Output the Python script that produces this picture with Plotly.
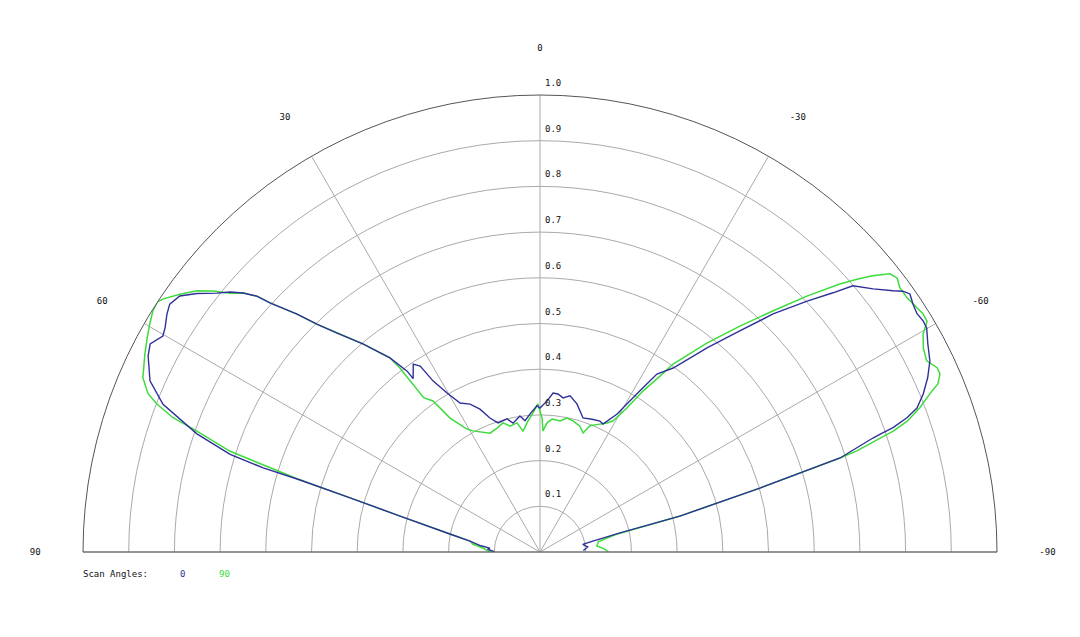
import plotly.graph_objects as go

# scan angle 0 (blue): theta in degrees (positive = left), relative level
theta_0 = [90.0, 88.8, 87.0, 85.5, 84.0, 81.1, 78.7, 75.6, 74.1, 73.3, 73.1, 72.5, 71.0,
           68.6, 66.3, 63.4, 61.9, 60.2, 59.1, 57.5, 56.2, 54.6, 53.0, 51.3, 50.0, 48.9,
           47.9, 47.3, 45.6, 44.4, 42.8, 40.4, 37.7, 36.3, 36.2, 34.0, 32.8, 32.0, 30.3,
           28.2, 25.3, 22.8, 20.5, 18.0, 13.9, 11.8, 8.4, 6.5, 4.1, 1.2, 0.0, -2.7, -4.7,
           -6.5, -8.5, -10.9, -14.0, -17.8, -21.4, -24.6, -26.2, -29.2, -31.1, -31.8, -33.3,
           -35.9, -39.3, -42.1, -44.4, -46.8, -48.5, -49.6, -51.7, -53.5, -54.3, -55.1,
           -56.4, -57.7, -58.9, -59.9, -61.8, -63.9, -65.8, -67.6, -69.1, -69.9, -70.6,
           -70.9, -71.1, -72.6, -73.8, -75.6, -76.6, -78.3, -80.0, -84.0, -86.0, -88.0]
r_0 = [0.100, 0.103, 0.115, 0.110, 0.130, 0.155, 0.201, 0.316, 0.432, 0.548, 0.633, 0.711, 0.794,
       0.886, 0.932, 0.959, 0.967, 0.951, 0.956, 0.968, 0.975, 0.967, 0.940, 0.906, 0.885, 0.862,
       0.835, 0.804, 0.744, 0.698, 0.653, 0.598, 0.537, 0.491, 0.470, 0.496, 0.484, 0.441, 0.403,
       0.370, 0.358, 0.339, 0.313, 0.297, 0.300, 0.288, 0.301, 0.289, 0.303, 0.320, 0.315, 0.331, 0.349,
       0.348, 0.341, 0.348, 0.334, 0.308, 0.312, 0.315, 0.312, 0.346, 0.394, 0.415, 0.466,
       0.497, 0.577, 0.652, 0.729, 0.802, 0.856, 0.899, 0.929, 0.961, 0.978, 0.987,
       0.980, 0.976, 0.979, 0.978, 0.963, 0.950, 0.930, 0.907, 0.883, 0.855, 0.819,
       0.788, 0.770, 0.688, 0.501, 0.316, 0.180, 0.118, 0.095, 0.105, 0.100, 0.095]

# scan angle 90 (green)
theta_90 = [91.0, 90.6, 88.5, 86.0, 83.2, 81.1, 78.7, 75.6, 74.1, 73.3, 72.0, 70.6, 69.9,
            68.9, 68.0, 66.3, 63.4, 61.4, 59.7, 58.1, 56.8, 56.1, 54.4, 52.7, 51.4, 50.1,
            48.9, 47.9, 47.3, 45.6, 44.4, 42.8, 40.4, 37.7, 37.3, 37.0, 35.3, 33.9, 30.7,
            29.0, 22.8, 19.1, 16.0, 13.4, 10.1, 8.0, 5.2, 2.9, 0.8, -0.9, -1.4, -3.1, -5.2,
            -8.7, -11.4, -14.1, -17.6, -19.9, -21.6, -25.1, -27.4, -29.1, -31.1, -32.6, -34.3,
            -35.3, -38.6, -41.5, -44.0, -46.2, -48.2, -49.3, -50.3, -51.5, -52.5, -53.7,
            -55.3, -57.1, -58.1, -59.2, -60.4, -62.0, -63.7, -65.1, -66.0, -67.1, -67.9,
            -69.2, -70.4, -71.1, -71.5, -72.3, -72.6, -73.8, -75.6, -77.0, -80.0, -84.0,
            -87.0, -90.0]
r_90 = [0.150, 0.105, 0.115, 0.125, 0.148, 0.155, 0.201, 0.316, 0.432, 0.548, 0.713, 0.796, 0.855,
        0.898, 0.925, 0.949, 0.967, 0.979, 0.989, 0.998, 1.000, 0.993, 0.969, 0.943, 0.915, 0.883,
        0.862, 0.835, 0.804, 0.744, 0.698, 0.653, 0.598, 0.537, 0.506, 0.423, 0.405, 0.353, 0.313,
        0.303, 0.282, 0.287, 0.294, 0.283, 0.287, 0.267, 0.288, 0.305, 0.324, 0.293, 0.265, 0.283, 0.292,
        0.290, 0.299, 0.296, 0.289, 0.277, 0.297, 0.309, 0.318, 0.328, 0.368, 0.418, 0.466,
        0.504, 0.585, 0.660, 0.733, 0.809, 0.880, 0.915, 0.946, 0.978, 0.985, 0.977,
        0.977, 0.983, 0.987, 0.986, 0.964, 0.950, 0.944, 0.958, 0.958, 0.945, 0.921,
        0.889, 0.853, 0.817, 0.785, 0.728, 0.688, 0.501, 0.316, 0.170, 0.130, 0.125,
        0.140, 0.150]

angle_ticks = [-90, -60, -30, 0, 30, 60, 90]
angle_text = ["-90", "-60", "-30", "0", "30", "60", "90"]
radial_ticks = [0.1, 0.2, 0.3, 0.4, 0.5, 0.6, 0.7, 0.8, 0.9, 1.0]

mono = "DejaVu Sans Mono"
blue = "#30309a"
green = "#3ddc3d"

fig = go.Figure()
fig.add_trace(go.Scatterpolar(theta=theta_90, r=r_90, mode="lines", name="90",
                              line=dict(color=green, width=1.5)))
fig.add_trace(go.Scatterpolar(theta=theta_0, r=r_0, mode="lines", name="0",
                              line=dict(color=blue, width=1.4)))

# legend line under the plot
notes = [
    dict(text="Scan Angles:", x=-0.002, y=-0.048, xref="paper", yref="paper",
         xanchor="left", yanchor="middle", showarrow=False),
    dict(text="0", x=0.1094, y=-0.048, xref="paper", yref="paper",
         xanchor="center", yanchor="middle", showarrow=False, font=dict(color=blue)),
    dict(text="90", x=0.155, y=-0.048, xref="paper", yref="paper",
         xanchor="center", yanchor="middle", showarrow=False, font=dict(color=green)),
]
# radial labels: the half disc fills the domain, so ring r sits at paper y=r on the 0 spoke
for v in radial_ticks:
    notes.append(dict(text="%.1f" % v, x=0.5, y=v, xref="paper", yref="paper",
                      xanchor="left", yanchor="middle", xshift=3, yshift=12,
                      showarrow=False))

# page body has an 8px margin, so the margins are shifted a bit
fig.update_layout(
    width=1080,
    height=637,
    margin=dict(l=75, r=91, t=87, b=93),
    paper_bgcolor="white",
    showlegend=False,
    font=dict(family=mono, size=9, color="#111"),
    polar=dict(
        bgcolor="white",
        sector=[0, 180],
        radialaxis=dict(range=[0, 1], tickvals=radial_ticks, showticklabels=False,
                        showline=False, ticks="", gridcolor="#aaaaaa", gridwidth=1),
        angularaxis=dict(rotation=90, direction="counterclockwise",
                         tickmode="array", tickvals=angle_ticks, ticktext=angle_text,
                         ticks="outside", ticklen=40, tickcolor="rgba(0,0,0,0)",
                         showline=True, linecolor="#555555", linewidth=1,
                         gridcolor="#aaaaaa", gridwidth=1,
                         tickfont=dict(family=mono, size=9, color="#111")),
    ),
    annotations=notes,
)

fig.write_html("out.html")
